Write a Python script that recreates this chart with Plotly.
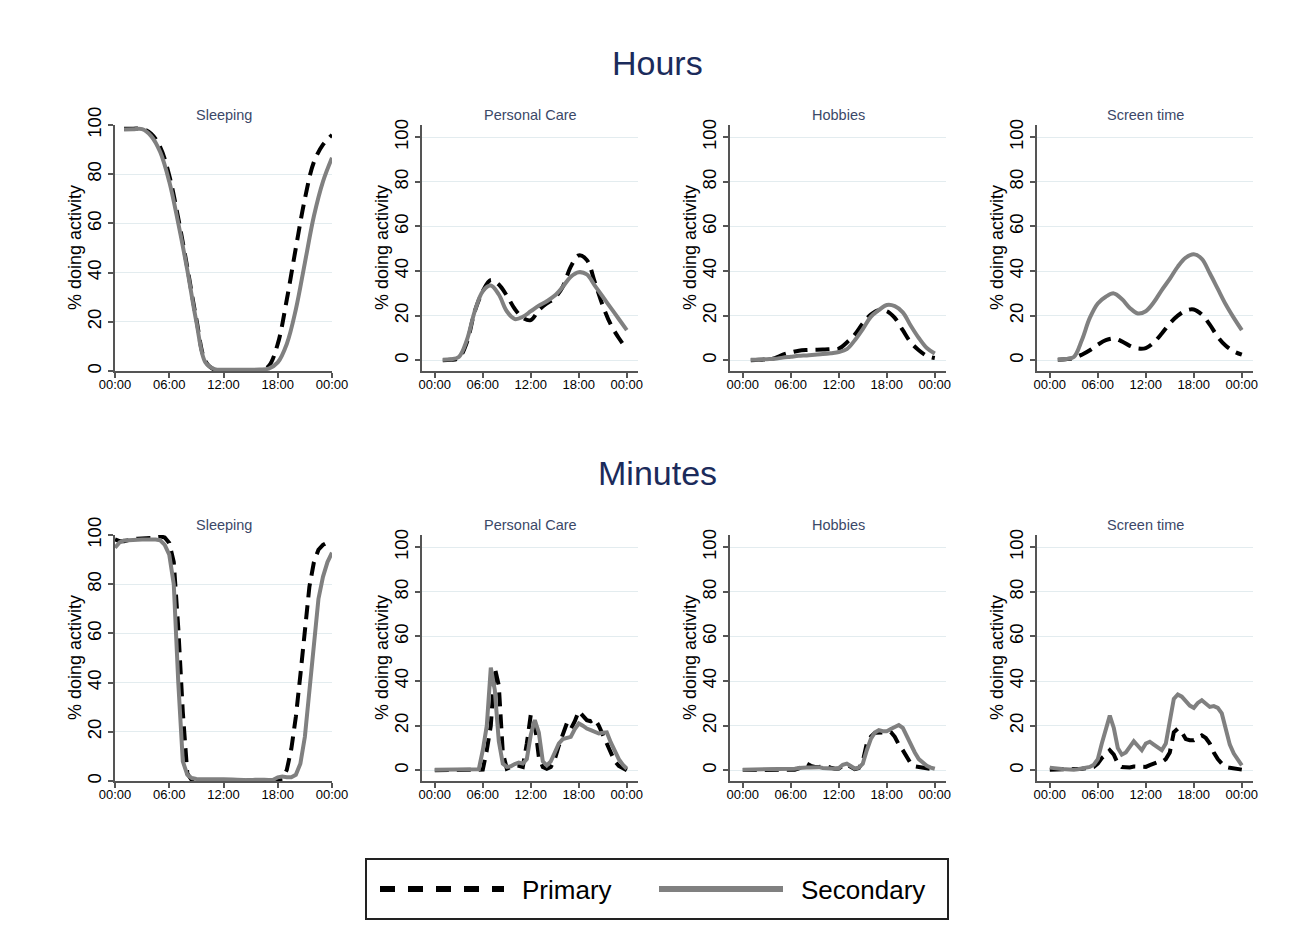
import plotly.graph_objects as go

# ---------------- data ----------------
hours_x = list(range(1, 25))             # hourly bins 01:00 .. 24:00
minutes_x = [h / 2 for h in range(49)]   # half-hour grid 00:00 .. 24:00

tick_vals = [0, 6, 12, 18, 24]
tick_text = ["00:00", "06:00", "12:00", "18:00", "00:00"]
y_ticks = [0, 20, 40, 60, 80, 100]

activities = ["Sleeping", "Personal Care", "Hobbies", "Screen time"]
row_titles = ["Hours", "Minutes"]
series_names = ["Primary", "Secondary"]
y_title = "% doing activity"

# --- Hours (hourly) ---
sleep_h_primary = [98.5, 98.5, 98.5, 96.5, 91, 79.5, 62, 42, 21, 4, 0.5, 0, 0, 0, 0, 0,
                   2, 11, 29, 50, 70, 85, 92, 96]
sleep_h_secondary = [98.2, 98.3, 98.3, 95.5, 89, 77, 60, 41, 20, 3.5, 0.8, 0.5, 0.5, 0.5, 0.5, 0.6,
                     1.0, 3.5, 11, 25, 44, 63, 77, 86.7]
care_h_primary = [0, 0.2, 1, 8, 22, 31, 36, 34, 29, 23, 19, 18, 22.5, 25.5, 28, 33,
                  42, 47, 45, 35, 24.5, 16, 10, 5]
care_h_secondary = [0.3, 0.5, 1.5, 9, 22, 31, 33.5, 29.5, 22, 18.5, 19.5, 22, 24.5, 26.5, 29, 33,
                    37.5, 39.5, 38.5, 33.5, 28.5, 23.5, 18.5, 13.5]
hobby_h_primary = [0, 0.2, 0.5, 1, 2.5, 3.5, 4.3, 4.6, 4.7, 4.8, 5, 5.2, 8, 11.5, 16.5, 20.5,
                   22.5, 22, 19, 13.5, 8, 4.5, 2, 1]
hobby_h_secondary = [0.2, 0.3, 0.5, 0.7, 1.2, 1.6, 2, 2.2, 2.5, 2.8, 3.2, 3.7, 5, 9, 14, 19.5,
                     22.5, 24.8, 24.3, 21.5, 15.5, 10, 5.5, 3]
screen_h_primary = [0.3, 0.5, 1, 2.5, 4.5, 7, 9, 9.8, 8.5, 6.5, 5.3, 5.5, 8, 12, 16.5, 20,
                    22.3, 22.8, 20.5, 16, 10.5, 6.5, 4, 2.5]
screen_h_secondary = [0.3, 0.6, 1.5, 9, 19, 25.5, 28.5, 30, 27.5, 23.5, 21, 22, 26, 31.5, 36.5, 42,
                      46, 47.5, 45.5, 39, 32, 25, 19, 13.5]

# --- Minutes (half-hourly) ---
sleep_m_primary = [98.2, 97.5, 97.5, 98, 98.3, 98.5, 98.5, 98.7, 98.8, 99.3, 99.5, 99, 96.8, 89, 62, 28,
                   3, 0.3, 0, 0, 0, 0, 0, 0, 0, 0, 0, 0, 0, 0, 0, 0,
                   0, 0, 0, 0, 0.3, 1, 4.5, 13, 26, 43, 62, 79, 89, 94, 96, 97.2, 98]
sleep_m_secondary = [94.8, 97, 97.8, 98, 98, 98.2, 98.2, 98.2, 98.3, 98.2, 97.8, 96, 92, 80, 40, 8,
                     2.5, 1.2, 0.8, 0.7, 0.7, 0.7, 0.7, 0.7, 0.7, 0.8, 0.6, 0.5, 0.3, 0.2, 0.3, 0.5,
                     0.7, 0.5, 0.4, 0.5, 1.5, 1.8, 1.5, 1.5, 2.5, 7, 18, 36, 58, 74, 83, 89, 92.8]
care_m_primary = [0, 0, 0, 0, 0, 0, 0, 0, 0, 0, 0, 0, 0.3, 9, 20, 46,
                  38, 8, 0.7, 1.5, 2, 2, 1.5, 12, 25, 21, 6, 1.5, 0.7, 1.5, 5, 11,
                  16, 21, 18.5, 22, 26.5, 24.5, 22.5, 22, 23, 20, 16, 11, 7, 4, 2, 1, 0]
care_m_secondary = [0.3, 0.3, 0.3, 0.3, 0.2, 0.2, 0.2, 0.2, 0.2, 0.3, 0.4, 0.5, 9, 20, 46, 36,
                    13, 3, 1.5, 1.8, 2.8, 3.5, 3, 5, 16, 22.5, 17, 4, 2.2, 4, 8, 12,
                    14, 14.5, 15, 18.5, 21, 20, 18.7, 18, 17, 16.5, 16.8, 17, 12.5, 8.5, 5, 2.5, 0.7]
hobby_m_primary = [0.1, 0.1, 0.1, 0.1, 0.1, 0.1, 0.1, 0.1, 0.1, 0.2, 0.2, 0.2, 0.3, 0.3, 0.8, 2,
                   3, 2, 1.5, 1.5, 1.5, 1.8, 1.2, 0.7, 0.8, 2, 2.5, 1.5, 0.5, 1, 4, 12,
                   15, 16.8, 17, 17.2, 17.2, 17.2, 15, 11.5, 9, 6, 3, 1.8, 1.6, 1.4, 1, 0.6, 0.3]
hobby_m_secondary = [0.3, 0.3, 0.3, 0.3, 0.3, 0.3, 0.3, 0.3, 0.3, 0.3, 0.3, 0.3, 0.4, 0.7, 1, 1.3,
                     1.2, 1.2, 1.4, 1.4, 1, 0.8, 0.7, 0.7, 1, 2.5, 3, 2, 0.8, 1.2, 3, 9,
                     14, 17, 18, 17.5, 17.5, 18.5, 19.5, 20.3, 19, 15, 11.5, 8, 5, 3.5, 2, 1.2, 0.7]
screen_m_primary = [0.3, 0.3, 0.3, 0.3, 0.3, 0.3, 0.3, 0.4, 0.7, 0.9, 1.2, 1.5, 3, 5.5, 7, 9,
                    7, 3, 1.5, 1.3, 1.3, 1.7, 1.7, 1.5, 1.5, 2.3, 3, 3.7, 3.7, 5, 8, 17,
                    18.7, 17, 14, 13.5, 13.5, 14.5, 15.7, 14.5, 12, 8, 5, 3, 1.5, 1.1, 0.8, 0.5, 0.3]
screen_m_secondary = [1.2, 0.9, 0.7, 0.6, 0.5, 0.3, 0.3, 0.5, 0.7, 1, 1.5, 2.5, 5, 12, 18, 24.5,
                      19, 10, 7, 8, 10.5, 13, 11, 9, 12, 12.8, 11.5, 10, 9, 12, 22, 32,
                      34, 33, 31, 29, 28, 30.2, 31.4, 30, 28.4, 28.8, 28, 25.5, 18, 11.5, 7.5, 4.5, 2.2]

panels = [
    (hours_x, sleep_h_primary, sleep_h_secondary),
    (hours_x, care_h_primary, care_h_secondary),
    (hours_x, hobby_h_primary, hobby_h_secondary),
    (hours_x, screen_h_primary, screen_h_secondary),
    (minutes_x, sleep_m_primary, sleep_m_secondary),
    (minutes_x, care_m_primary, care_m_secondary),
    (minutes_x, hobby_m_primary, hobby_m_secondary),
    (minutes_x, screen_m_primary, screen_m_secondary),
]

# ---------------- layout geometry (px) ----------------
W, H = 1311, 947
col_left = [115, 422, 730, 1037]
col_width = [217, 216, 216, 216]
row_top = [125, 535]
row_height = 246
row_title_y = [63, 473]
panel_title_y = [115, 525]
legend_box = (366, 859, 948, 919)   # left, top, right, bottom

FONT = "Liberation Sans, Arial, sans-serif"
PRIMARY = dict(color="black", width=4, dash="14px,8px")
SECONDARY = dict(color="#808080", width=4)
AXIS_COLOR = "#555555"
GRID_COLOR = "#e3ecef"

fig = go.Figure()
layout = dict(
    width=W, height=H,
    margin=dict(l=0, r=0, t=0, b=0, pad=0, autoexpand=False),
    paper_bgcolor="white", plot_bgcolor="white",
    font=dict(family=FONT, color="black"),
    showlegend=True,
    annotations=[],
    shapes=[],
)

for k, (xs, prim, sec) in enumerate(panels):
    r, c = divmod(k, 4)
    ax = "" if k == 0 else str(k + 1)
    shape = "spline" if r == 0 else "linear"
    fig.add_trace(go.Scatter(x=xs, y=prim, mode="lines", line=dict(PRIMARY, shape=shape),
                             xaxis="x" + ax, yaxis="y" + ax, showlegend=False, hoverinfo="skip"))
    fig.add_trace(go.Scatter(x=xs, y=sec, mode="lines", line=dict(SECONDARY, shape=shape),
                             xaxis="x" + ax, yaxis="y" + ax, showlegend=False, hoverinfo="skip"))

    x0 = col_left[c] / W
    x1 = (col_left[c] + col_width[c]) / W
    y1 = 1 - row_top[r] / H
    y0 = 1 - (row_top[r] + row_height) / H
    if c == 0:
        xr, yr = [0, 24], [0, 100]
    else:
        xr, yr = [-1.6, 25.4], [-4.8, 105.5]

    layout["xaxis" + ax] = dict(
        domain=[x0, x1], anchor="y" + ax, range=xr, automargin=False,
        showline=True, linecolor=AXIS_COLOR, linewidth=1.5,
        ticks="outside", ticklen=5, tickcolor=AXIS_COLOR, tickwidth=1.5,
        tickvals=tick_vals, ticktext=tick_text, ticklabelstandoff=-4,
        tickfont=dict(size=13, color="black", family=FONT),
        showgrid=False, zeroline=False, fixedrange=True,
    )
    layout["yaxis" + ax] = dict(
        domain=[y0, y1], anchor="x" + ax, range=yr, automargin=False,
        showline=True, linecolor=AXIS_COLOR, linewidth=1.5,
        ticks="outside", ticklen=5, tickcolor=AXIS_COLOR, tickwidth=1.5,
        tickvals=y_ticks, tickangle=-90,
        tickfont=dict(size=18.5, color="black", family=FONT),
        showgrid=True, gridcolor=GRID_COLOR, gridwidth=1,
        zeroline=False, fixedrange=True,
    )
    # panel title
    layout["annotations"].append(dict(
        text=activities[c], xref="paper", yref="paper",
        x=(col_left[c] + col_width[c] / 2) / W, y=1 - panel_title_y[r] / H,
        xanchor="center", yanchor="middle", showarrow=False,
        font=dict(size=14.5, color="#3b4868", family=FONT)))
    # y-axis title
    layout["annotations"].append(dict(
        text=y_title, xref="paper", yref="paper",
        x=(col_left[c] - 40) / W, y=1 - (row_top[r] + row_height / 2) / H,
        xanchor="center", yanchor="middle", textangle=-90, showarrow=False,
        font=dict(size=18, color="black", family=FONT)))

for r in range(2):
    layout["annotations"].append(dict(
        text=row_titles[r], xref="paper", yref="paper",
        x=657 / W, y=1 - row_title_y[r] / H,
        xanchor="center", yanchor="middle", showarrow=False,
        font=dict(size=34, color="#1b2b5b", family=FONT)))

# legend frame
lx0, ly0, lx1, ly1 = legend_box
layout["shapes"].append(dict(
    type="rect", xref="paper", yref="paper",
    x0=lx0 / W, x1=lx1 / W, y0=1 - ly1 / H, y1=1 - ly0 / H,
    line=dict(color="#222222", width=2), fillcolor="rgba(0,0,0,0)", layer="above"))

# legend entries (a leading en-space widens the gap between symbol and label)
fig.add_trace(go.Scatter(x=[None], y=[None], mode="lines", name="\u2002" + series_names[0],
                         line=dict(color="black", width=6, dash="15px,13px")))
fig.add_trace(go.Scatter(x=[None], y=[None], mode="lines", name="\u2002" + series_names[1],
                         line=dict(color="#808080", width=6)))

layout["legend"] = dict(
    orientation="h", x=375 / W, xanchor="left", y=1 - 889 / H, yanchor="middle",
    borderwidth=0, bgcolor="rgba(0,0,0,0)",
    font=dict(size=26, color="black", family=FONT),
    itemwidth=124, entrywidth=140, entrywidthmode="pixels",
    traceorder="normal", itemclick=False, itemdoubleclick=False,
)

fig.update_layout(**layout)
fig.write_html("out.html", config={"displayModeBar": False},
               post_script="document.body.style.margin='0';")
